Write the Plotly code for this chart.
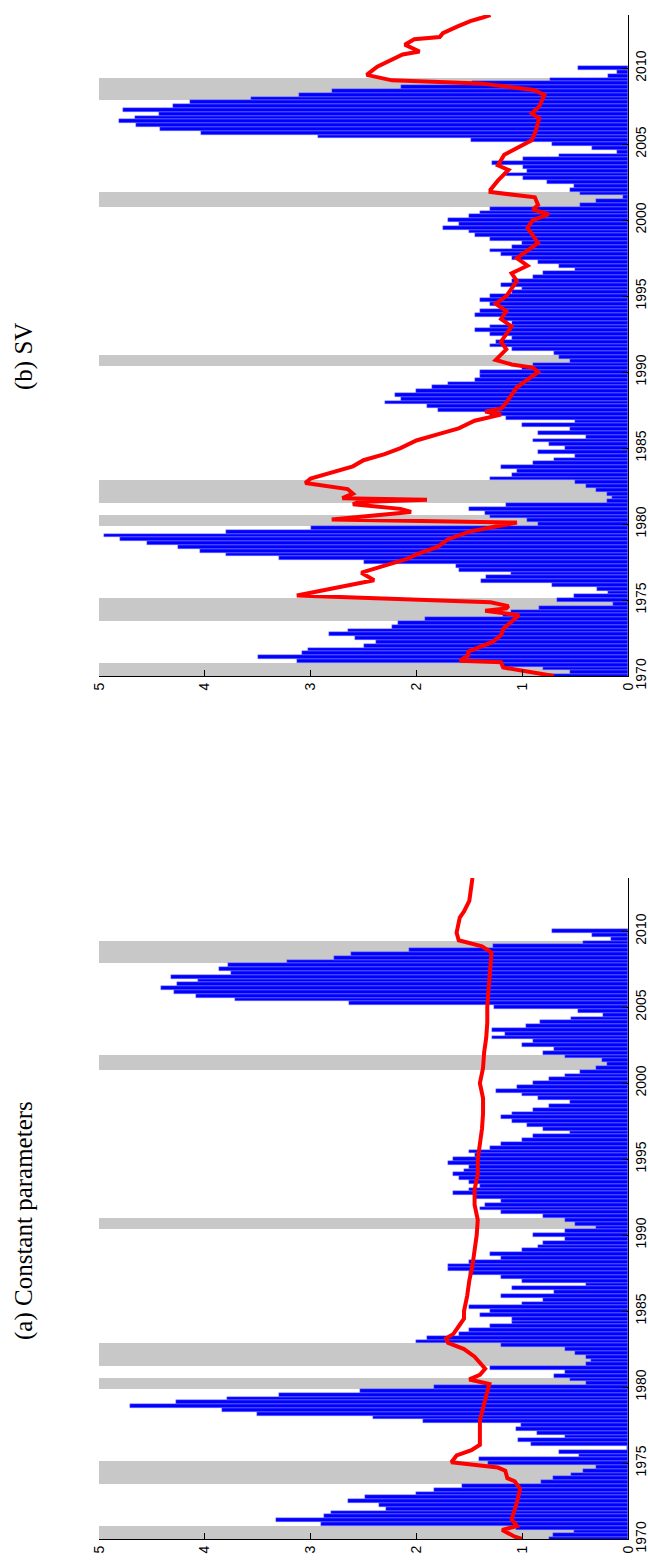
import plotly.graph_objects as go

# ---------------- data ----------------
start_year = 1970.0
quarter_step = 0.25

sv_bars = [
    0.75, 0.55, 0.80, 1.20,
    3.13, 3.50, 3.08, 3.02,
    2.50, 2.38, 2.58, 2.83,
    2.65, 2.23, 2.17, 1.92,
    1.18, 1.11, 0.84, 0.14,
    0.67, 0.51, 0.19, 0.29,
    0.72, 1.39, 1.34, 1.11,
    1.60, 1.63, 2.50, 3.30,
    3.80, 4.05, 4.25, 4.55,
    4.80, 4.95, 3.80, 3.00,
    0.85, 0.95, 1.30, 1.35,
    1.50, 1.15, 0.20, 0.15,
    0.20, 0.30, 0.40, 0.50,
    1.30, 1.10, 1.05, 1.20,
    0.90, 0.70, 0.50, 0.85,
    0.60, 0.75, 0.90, 0.40,
    0.85, 0.55, 1.00, 0.50,
    1.15, 1.30, 1.80, 1.90,
    2.30, 2.15, 2.20, 2.00,
    1.85, 1.70, 1.45, 1.40,
    1.40, 1.00, 0.90, 0.55,
    0.65, 0.70, 1.10, 1.30,
    1.25, 1.10, 1.30, 1.45,
    1.30, 1.10, 1.20, 1.45,
    1.40, 1.20, 1.30, 1.40,
    1.30, 1.10, 1.00, 1.20,
    1.10, 0.90, 0.80, 0.50,
    0.65, 0.85, 1.10, 1.20,
    1.30, 1.10, 1.00, 1.30,
    1.45, 1.50, 1.75, 1.60,
    1.70, 1.50, 1.40, 1.30,
    0.45, 0.30, 0.05, 0.45,
    0.55, 0.51, 0.77, 0.99,
    1.15, 0.95, 0.99, 1.29,
    0.99, 0.65, 0.10, 0.34,
    0.72, 1.48, 2.93, 4.04,
    4.42, 4.65, 4.81, 4.66,
    4.43, 4.77, 4.30, 4.14,
    3.56, 3.11, 2.80, 2.15,
    1.47, 0.74, 0.19, 0.10,
    0.47,
]

const_bars = [
    0.75, 0.71, 0.51, 1.06,
    2.90, 3.33, 2.87, 2.81,
    2.29, 2.35, 2.65, 2.49,
    2.00, 1.83, 1.57, 0.82,
    0.71, 0.54, 0.43, 0.30,
    1.32, 1.41, 0.46, 0.65,
    0.01, 0.92, 1.04, 0.60,
    0.86, 1.06, 1.01, 1.94,
    2.41, 3.51, 3.84, 4.71,
    4.27, 3.79, 3.30, 2.53,
    1.83, 0.40, 0.55, 0.70,
    0.60, 1.30, 0.40, 0.35,
    0.40, 0.50, 0.60, 1.20,
    2.00, 1.90, 1.60, 1.50,
    1.30, 1.10, 1.10, 1.40,
    1.30, 1.50, 1.00, 0.80,
    1.20, 0.70, 1.10, 0.40,
    1.00, 1.20, 1.50, 1.70,
    1.70, 1.50, 1.20, 1.30,
    1.00, 0.85, 0.80, 0.60,
    0.90, 0.60, 0.30, 0.50,
    0.60, 0.80, 1.20, 1.40,
    1.35, 1.20, 1.45, 1.65,
    1.50, 1.40, 1.50, 1.60,
    1.65, 1.55, 1.50, 1.70,
    1.65, 1.45, 1.50, 1.30,
    1.20, 1.00, 0.90, 0.55,
    0.80, 0.95, 1.10, 1.20,
    1.10, 0.90, 0.75, 0.55,
    0.85, 1.00, 1.25, 1.05,
    0.90, 0.75, 0.60, 0.45,
    0.30, 0.20, 0.25, 0.60,
    0.80, 0.70, 1.00, 0.90,
    1.29, 1.16, 1.29, 0.96,
    0.83, 0.54, 0.24, 0.47,
    1.27, 2.64, 3.71, 4.08,
    4.29, 4.41, 4.26, 4.06,
    4.32, 3.75, 3.87, 3.78,
    3.22, 2.78, 2.62, 2.07,
    1.28, 0.43, 0.16, 0.34,
    0.72,
]

# NBER recession quarters (year, quarter)
recession_quarters = [
    (1970, 1), (1970, 2), (1970, 3), (1970, 4),
    (1973, 4), (1974, 1), (1974, 2), (1974, 3), (1974, 4), (1975, 1),
    (1980, 1), (1980, 2), (1980, 3),
    (1981, 3), (1981, 4), (1982, 1), (1982, 2), (1982, 3), (1982, 4),
    (1990, 3), (1990, 4), (1991, 1),
    (2001, 1), (2001, 2), (2001, 3), (2001, 4),
    (2008, 1), (2008, 2), (2008, 3), (2008, 4), (2009, 1), (2009, 2),
]
recession_height = 5

sv_line_t = [
    1970.0, 1970.34, 1970.56, 1970.9, 1971.0, 1971.35, 1971.6, 1972.24, 1972.7,
    1973.1, 1973.4, 1974.0, 1974.3, 1974.45, 1974.6, 1974.85, 1975.3, 1975.8,
    1976.3, 1976.8, 1977.2, 1977.7, 1978.0, 1978.5, 1979.0, 1979.5, 1979.9,
    1980.1, 1980.3, 1980.6, 1980.8, 1981.0, 1981.3, 1981.45, 1981.6, 1981.7,
    1982.0, 1982.3, 1982.7, 1983.0, 1983.4, 1983.8, 1984.2, 1984.6, 1985.0,
    1985.5, 1985.9, 1986.3, 1986.8, 1987.2, 1987.4, 1987.6, 1988.0, 1988.5,
    1989.0, 1989.5, 1990.0, 1990.3, 1990.5, 1990.8, 1991.2, 1991.5, 1992.0,
    1992.5, 1993.0, 1993.5, 1994.0, 1994.5, 1995.0, 1995.5, 1996.0, 1996.5,
    1997.0, 1997.5, 1998.0, 1998.5, 1999.0, 1999.5, 2000.0, 2000.4, 2000.7,
    2001.0, 2001.5, 2001.85, 2002.0, 2002.6, 2003.3, 2003.6, 2004.3, 2004.8,
    2005.26, 2005.9, 2006.7, 2007.03, 2007.47, 2008.24, 2008.57, 2009.0,
    2009.2, 2009.56, 2010.1, 2010.9, 2011.1, 2011.55, 2011.9, 2012.05, 2012.3,
    2012.75, 2013.1, 2013.3, 2013.5,
]
sv_line_v = [
    0.70, 0.99, 1.18, 1.20, 1.59, 1.51, 1.51, 1.28, 1.20,
    1.18, 1.13, 1.03, 1.35, 1.15, 1.13, 1.30, 3.13, 2.74,
    2.40, 2.52, 2.33, 2.09, 2.00, 1.80, 1.70, 1.50, 1.20,
    1.05, 2.80, 2.30, 2.05, 2.15, 2.60, 2.55, 1.90, 2.70,
    2.60, 2.65, 3.05, 3.00, 2.80, 2.60, 2.50, 2.30, 2.15,
    2.00, 1.80, 1.60, 1.45, 1.20, 1.35, 1.20, 1.15, 1.10,
    1.05, 0.95, 0.85, 0.90, 1.10, 1.25, 1.20, 1.15, 1.20,
    1.15, 1.10, 1.20, 1.15, 1.25, 1.15, 1.10, 1.05, 1.10,
    0.95, 1.05, 0.95, 0.85, 0.90, 0.95, 0.90, 0.75, 0.90,
    0.85, 0.88, 1.30, 1.30, 1.23, 1.13, 1.23, 1.17, 1.03,
    0.91, 0.87, 0.84, 0.91, 0.84, 0.79, 0.89, 1.40,
    2.23, 2.47, 2.37, 2.13, 1.97, 2.11, 2.02, 1.78, 1.75,
    1.61, 1.49, 1.39, 1.30,
]

const_line_t = [
    1970.0, 1970.15, 1970.6, 1970.85, 1971.3, 1972.4, 1973.3, 1973.8, 1974.0,
    1974.5, 1974.7, 1975.05, 1975.5, 1975.85, 1976.2, 1977.0, 1977.8, 1978.9,
    1980.2, 1980.5, 1980.8, 1981.2, 1981.6, 1982.0, 1982.5, 1982.9, 1983.2,
    1983.5, 1984.0, 1984.5, 1985.0, 1986.0, 1987.0, 1988.0, 1989.0, 1990.0,
    1991.0, 1992.0, 1993.0, 1994.0, 1995.0, 1996.0, 1997.0, 1998.0, 1999.0,
    2000.0, 2001.0, 2002.0, 2003.0, 2004.0, 2005.0, 2006.0, 2007.0, 2008.0,
    2008.6, 2009.0, 2009.4, 2009.9, 2010.9, 2011.3, 2012.0, 2013.5,
]
const_line_v = [
    1.00, 1.07, 1.19, 1.05, 1.10, 1.05, 1.02, 1.07, 1.14,
    1.16, 1.23, 1.67, 1.62, 1.48, 1.40, 1.40, 1.40, 1.36,
    1.31, 1.50, 1.40, 1.35, 1.40, 1.45, 1.55, 1.70, 1.72,
    1.65, 1.60, 1.55, 1.55, 1.52, 1.50, 1.47, 1.45, 1.43,
    1.42, 1.45, 1.45, 1.42, 1.42, 1.40, 1.38, 1.37, 1.37,
    1.40, 1.37, 1.36, 1.34, 1.33, 1.33, 1.32, 1.31, 1.30,
    1.29, 1.38, 1.60, 1.62, 1.59, 1.55, 1.50, 1.47,
]

panel_titles = ["(b) SV", "(a) Constant parameters"]
value_ticks = [0, 1, 2, 3, 4, 5]
year_ticks = [1970, 1975, 1980, 1985, 1990, 1995, 2000, 2005, 2010]
year_range = [1970, 2013.5]
value_range = [5, 0]

# ---------------- figure ----------------
W, H = 648, 1562
BLUE = "#0000ff"
GRAY = "#c8c8c8"
RED = "#ff0000"

bar_dates_sv = [start_year + quarter_step * i for i in range(len(sv_bars))]
bar_dates_const = [start_year + quarter_step * i for i in range(len(const_bars))]
rec_dates = [y + (q - 1) * quarter_step for (y, q) in recession_quarters]

fig = go.Figure()

panels = [
    ("x", "y", sv_bars, bar_dates_sv, sv_line_v, sv_line_t),
    ("x2", "y2", const_bars, bar_dates_const, const_line_v, const_line_t),
]
for xa, ya, bars, dates, lv, lt in panels:
    fig.add_trace(go.Bar(
        x=[recession_height] * len(rec_dates), y=rec_dates, orientation="h",
        width=quarter_step, marker=dict(color=GRAY, line=dict(width=0)),
        xaxis=xa, yaxis=ya, showlegend=False, hoverinfo="skip"))
    fig.add_trace(go.Bar(
        x=bars, y=dates, orientation="h", width=quarter_step,
        marker=dict(color=BLUE, line=dict(width=0.4, color="#8a8aff")),
        xaxis=xa, yaxis=ya, showlegend=False))
    fig.add_trace(go.Scatter(
        x=lv, y=lt, mode="lines", line=dict(color=RED, width=4),
        xaxis=xa, yaxis=ya, showlegend=False))

x0, x1 = 99 / W, 628 / W
dom_b = [(H - 676) / H, (H - 15) / H]
dom_a = [(H - 1539) / H, (H - 878) / H]

tickfont = dict(family="Liberation Sans, Arial, sans-serif", size=14, color="black")
xcommon = dict(range=value_range, tickvals=value_ticks, ticks="inside", ticklen=6,
               tickcolor="black", showline=True, linecolor="black", linewidth=1,
               tickangle=-90, tickfont=tickfont, showgrid=False, zeroline=False,
               automargin=False, fixedrange=True)
ycommon = dict(range=year_range, tickvals=year_ticks, ticks="inside", ticklen=6,
               tickcolor="black", showline=True, linecolor="black", linewidth=1,
               tickangle=-90, tickfont=tickfont, showgrid=False, zeroline=False,
               side="right", automargin=False, fixedrange=True)

fig.update_layout(
    width=W, height=H, autosize=False,
    margin=dict(l=0, r=0, t=0, b=0),
    paper_bgcolor="white", plot_bgcolor="white",
    barmode="overlay", bargap=0,
    xaxis=dict(domain=[x0, x1], anchor="y", **xcommon),
    yaxis=dict(domain=dom_b, anchor="x", **ycommon),
    xaxis2=dict(domain=[x0, x1], anchor="y2", **xcommon),
    yaxis2=dict(domain=dom_a, anchor="x2", **ycommon),
    annotations=[
        dict(text=panel_titles[0], x=24 / W, y=(H - 357) / H, xref="paper", yref="paper",
             showarrow=False, textangle=-90, xanchor="center", yanchor="middle",
             font=dict(family="Liberation Serif, Times New Roman, serif", size=25, color="black")),
        dict(text=panel_titles[1], x=24 / W, y=(H - 1221) / H, xref="paper", yref="paper",
             showarrow=False, textangle=-90, xanchor="center", yanchor="middle",
             font=dict(family="Liberation Serif, Times New Roman, serif", size=25, color="black")),
    ],
)

fig.write_html("out.html")
